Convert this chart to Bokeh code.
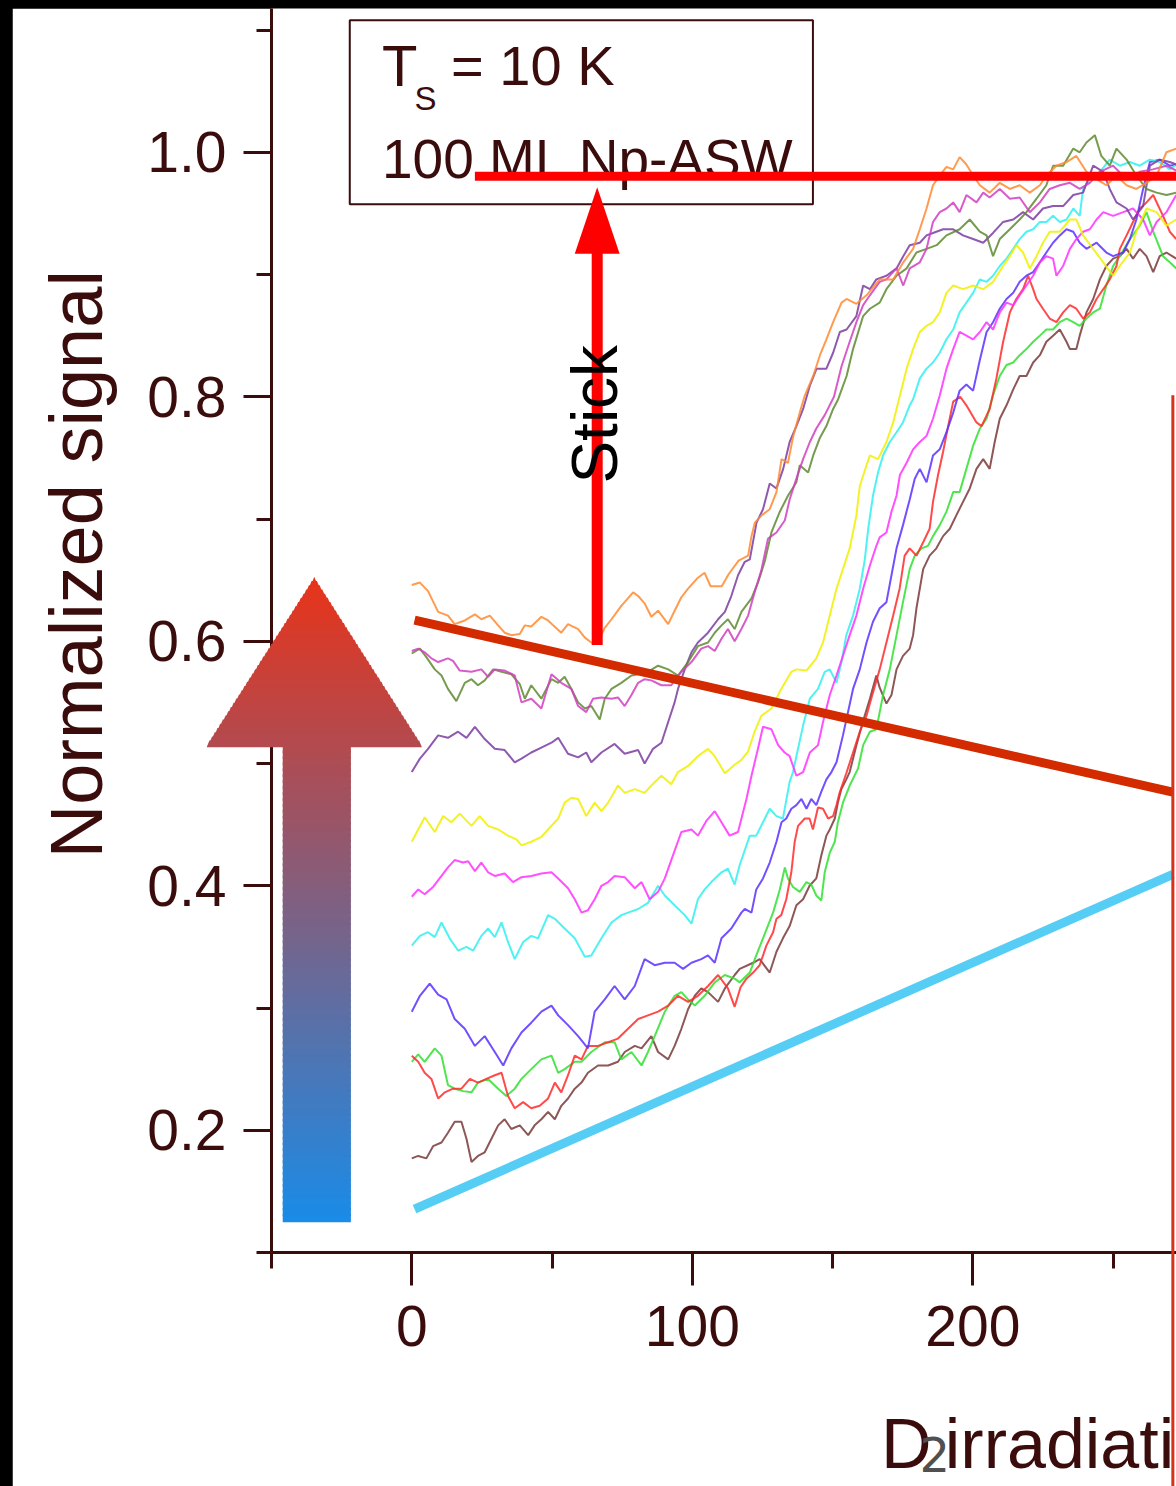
import math
from bokeh.plotting import figure
from bokeh.models import Range1d, FixedTicker, PrintfTickFormatter
from bokeh.layouts import column
from bokeh.embed import file_html
from bokeh.resources import INLINE
from bokeh.core.properties import value

# ---------------- data ----------------
X_TICKS = [0, 100, 200]
X_MINOR = [-50, 50, 150, 250]
Y_TICKS = [0.2, 0.4, 0.6, 0.8, 1.0]
Y_MINOR = [0.1, 0.3, 0.5, 0.7, 0.9, 1.1]

ORANGE = [(0,0.646),(2.9,0.648),(5.8,0.641),(9.4,0.624),(12.9,0.621),(15.3,0.614),(18.9,0.617),(22.5,0.622),(24.8,0.618),(27.8,0.621),(30.8,0.613),(33.1,0.607),(35.5,0.605),(38.5,0.606),(40.3,0.613),(42.6,0.612),(46.2,0.620),(48.6,0.617),(50.4,0.613),(53.3,0.607),(55.7,0.614),(59.3,0.610),(61.7,0.603),(64.0,0.599),(66.0,0.598),(68.8,0.611),(71.2,0.618),(74.7,0.629),(78.9,0.640),(80.7,0.637),(83.0,0.631),(85.4,0.620),(87.8,0.625),(91.4,0.614),(93.7,0.625),(96.1,0.636),(98.5,0.643),(102.0,0.652),(104.4,0.656),(106.5,0.645),(110.5,0.645),(113.0,0.655),(116.5,0.666),(119.9,0.670),(121.1,0.686),(122.3,0.697),(124.7,0.703),(127.6,0.708),(130.0,0.722),(131.8,0.749),(134.1,0.746),(136.0,0.768),(138.3,0.787),(140.1,0.801),(143.1,0.817),(145.5,0.834),(147.8,0.847),(150.2,0.861),(153.2,0.877),(155.0,0.880),(158.5,0.876),(162.1,0.883),(166.8,0.896),(171.6,0.896),(175.2,0.910),(178.7,0.921),(181.1,0.937),(183.5,0.954),(185.8,0.973),(188.2,0.981),(190.6,0.988),(193.0,0.986),(195.3,0.996),(197.7,0.990),(200.1,0.981),(202.5,0.973),(206.0,0.967),(209.6,0.975),(213.2,0.970),(216.7,0.973),(220.3,0.967),(223.9,0.973),(226.2,0.981),(229.8,0.989),(233.4,0.992),(236.9,0.997),(240.5,0.984),(244.1,0.978),(247.6,0.973),(251.2,0.981),(254.8,0.973),(258.3,0.970),(261.9,0.975),(265.5,0.981),(269.0,1.000),(272.5,1.003)]

PINK = [(0,0.592),(2.3,0.594),(4.6,0.591),(7.0,0.586),(9.4,0.583),(12.9,0.586),(14.7,0.584),(17.1,0.576),(21.3,0.575),(24.8,0.577),(27.2,0.571),(29.6,0.577),(33.1,0.576),(36.7,0.572),(39.1,0.550),(42.6,0.553),(46.2,0.545),(49.8,0.573),(53.3,0.566),(56.9,0.561),(59.3,0.547),(62.2,0.542),(64.6,0.553),(67.6,0.554),(71.2,0.553),(73.5,0.554),(75.9,0.547),(78.3,0.556),(80.7,0.566),(83.0,0.569),(85.4,0.568),(89.0,0.564),(92.5,0.564),(96.1,0.575),(99.7,0.583),(103.2,0.594),(105.6,0.596),(108.0,0.592),(110.4,0.602),(112.7,0.610),(115.1,0.600),(117.5,0.610),(119.9,0.621),(122.2,0.640),(124.6,0.658),(127.0,0.684),(130.0,0.689),(133.0,0.699),(134.7,0.716),(137.1,0.733),(139.5,0.749),(141.9,0.763),(144.2,0.774),(147.2,0.785),(150.5,0.800),(153.2,0.825),(156.1,0.845),(158.5,0.861),(160.9,0.875),(163.3,0.883),(166.8,0.894),(169.2,0.896),(172.8,0.905),(175.2,0.891),(177.5,0.905),(181.1,0.910),(183.5,0.921),(185.8,0.943),(188.2,0.951),(190.6,0.954),(193.0,0.959),(195.3,0.951),(197.7,0.965),(201.3,0.959),(203.7,0.967),(206.0,0.963),(209.6,0.970),(213.2,0.962),(216.7,0.963),(220.3,0.951),(223.9,0.959),(227.4,0.970),(231.0,0.973),(234.6,0.975),(238.1,0.970),(241.7,0.975),(245.3,0.984),(250.0,0.989),(254.8,0.978),(259.5,0.984),(264.2,0.986),(269.0,0.989),(272.5,0.985)]

OLIVE = [(0,0.590),(2.9,0.594),(5.2,0.587),(8.2,0.577),(10.6,0.572),(12.9,0.561),(15.9,0.551),(18.9,0.566),(21.3,0.569),(23.6,0.564),(26.0,0.568),(29.0,0.577),(32.0,0.575),(35.5,0.573),(38.5,0.565),(40.3,0.553),(42.6,0.564),(46.2,0.553),(49.8,0.569),(52.2,0.566),(54.5,0.571),(56.9,0.561),(59.3,0.550),(61.7,0.545),(64.0,0.547),(67.0,0.536),(68.8,0.553),(71.2,0.561),(74.7,0.566),(78.3,0.572),(80.7,0.573),(84.2,0.575),(87.8,0.580),(91.4,0.577),(94.9,0.572),(98.5,0.583),(102.0,0.596),(105.6,0.599),(108.0,0.607),(110.4,0.613),(112.7,0.618),(115.1,0.610),(117.5,0.624),(121.1,0.635),(123.4,0.648),(125.8,0.665),(128.2,0.689),(131.2,0.706),(134.1,0.719),(137.1,0.730),(138.3,0.744),(141.3,0.738),(143.1,0.752),(145.4,0.766),(147.8,0.776),(150.2,0.790),(152.0,0.798),(155.0,0.817),(157.3,0.839),(160.9,0.866),(163.3,0.872),(166.8,0.877),(169.2,0.888),(172.8,0.899),(176.4,0.905),(179.9,0.918),(183.5,0.921),(187.1,0.924),(190.6,0.932),(195.3,0.937),(198.9,0.945),(202.5,0.935),(204.9,0.932),(207.2,0.915),(209.6,0.929),(213.2,0.937),(216.7,0.945),(219.1,0.951),(222.7,0.962),(226.2,0.973),(228.6,0.989),(232.2,0.989),(235.8,1.003),(238.1,1.000),(240.5,1.008),(243.5,1.014),(245.8,0.997),(248.8,0.989),(251.2,1.003),(254.8,0.994),(258.3,0.981),(261.9,0.970),(265.5,0.967),(269.0,0.965),(272.5,0.967)]

PURPLE = [(0,0.493),(2.9,0.504),(5.8,0.512),(9.4,0.523),(12.9,0.521),(16.5,0.526),(19.5,0.521),(22.5,0.530),(26.0,0.520),(29.6,0.512),(33.1,0.511),(36.7,0.501),(39.1,0.504),(42.6,0.509),(46.2,0.513),(49.8,0.517),(52.2,0.521),(55.7,0.508),(59.3,0.505),(62.2,0.509),(64.0,0.501),(67.6,0.509),(72.3,0.516),(75.9,0.508),(80.7,0.511),(83.0,0.500),(86.0,0.512),(89.0,0.517),(91.4,0.534),(93.7,0.550),(94.9,0.561),(97.3,0.577),(99.7,0.591),(102.0,0.599),(105.6,0.607),(109.2,0.618),(111.6,0.624),(113.9,0.637),(116.3,0.654),(118.7,0.665),(120.5,0.667),(122.9,0.697),(125.2,0.708),(127.6,0.729),(130.0,0.725),(132.4,0.741),(134.7,0.763),(137.1,0.776),(139.5,0.790),(141.9,0.809),(144.3,0.823),(147.8,0.823),(150.2,0.836),(152.6,0.853),(155.0,0.855),(158.5,0.866),(160.9,0.891),(163.3,0.888),(165.6,0.896),(169.2,0.899),(172.8,0.905),(175.2,0.915),(177.5,0.924),(181.1,0.926),(183.5,0.932),(185.8,0.934),(189.4,0.937),(193.0,0.937),(196.5,0.932),(200.1,0.929),(203.7,0.926),(207.2,0.934),(210.8,0.943),(214.4,0.945),(217.9,0.951),(221.5,0.945),(225.0,0.954),(228.6,0.956),(232.2,0.956),(235.8,0.965),(239.3,0.967),(242.9,0.989),(246.5,0.984),(248.8,0.970),(251.2,0.959),(254.8,0.954),(257.1,0.945),(260.7,0.956),(263.1,0.989),(266.6,0.994),(270.2,0.992),(272.5,0.990)]

YELLOW = [(0,0.436),(2.3,0.446),(4.6,0.456),(8.2,0.444),(11.2,0.457),(14.1,0.452),(17.1,0.459),(21.3,0.449),(24.2,0.457),(27.2,0.449),(30.8,0.446),(34.3,0.441),(37.3,0.438),(39.1,0.433),(42.6,0.436),(46.2,0.440),(48.6,0.446),(52.2,0.455),(54.5,0.468),(56.9,0.472),(59.3,0.471),(62.2,0.457),(65.2,0.468),(67.6,0.461),(70.0,0.468),(73.5,0.482),(75.9,0.476),(79.5,0.479),(83.0,0.476),(85.4,0.482),(89.0,0.490),(92.5,0.483),(94.9,0.493),(98.5,0.498),(102.0,0.506),(105.6,0.512),(108.0,0.506),(111.6,0.492),(115.1,0.499),(117.5,0.503),(119.9,0.510),(122.2,0.526),(124.6,0.539),(128.2,0.545),(131.7,0.561),(135.3,0.575),(137.1,0.577),(140.7,0.576),(144.2,0.586),(146.6,0.599),(149.0,0.621),(151.4,0.643),(153.7,0.659),(156.1,0.676),(158.5,0.703),(159.7,0.727),(162.1,0.744),(163.3,0.752),(166.2,0.749),(169.2,0.763),(171.6,0.779),(174.0,0.801),(176.4,0.823),(178.7,0.839),(181.1,0.853),(183.5,0.858),(185.8,0.861),(188.2,0.869),(190.6,0.885),(193.0,0.891),(196.5,0.888),(200.1,0.891),(203.7,0.888),(207.2,0.894),(210.8,0.907),(213.2,0.915),(215.5,0.924),(217.9,0.918),(220.3,0.905),(222.7,0.915),(225.0,0.926),(227.4,0.935),(231.0,0.935),(234.6,0.945),(236.9,0.945),(239.3,0.932),(242.9,0.921),(246.5,0.910),(250.0,0.899),(252.4,0.907),(256.0,0.918),(258.3,0.935),(261.9,0.954),(265.5,0.951),(269.0,0.940),(272.5,0.945)]

MAGENTA = [(0,0.391),(2.3,0.397),(4.6,0.393),(7.6,0.399),(10.6,0.408),(12.9,0.415),(15.3,0.421),(18.3,0.419),(20.1,0.420),(22.5,0.412),(24.8,0.419),(27.2,0.411),(29.6,0.408),(33.1,0.410),(36.1,0.403),(39.1,0.407),(42.6,0.408),(46.2,0.410),(49.8,0.411),(52.2,0.406),(55.7,0.398),(58.1,0.389),(60.5,0.378),(62.8,0.380),(65.2,0.389),(67.6,0.400),(70.0,0.403),(72.3,0.408),(75.9,0.407),(79.5,0.398),(81.9,0.403),(84.8,0.389),(87.8,0.395),(90.2,0.406),(92.5,0.421),(96.1,0.444),(99.7,0.446),(102.0,0.441),(105.0,0.453),(108.0,0.461),(110.4,0.452),(113.3,0.441),(116.3,0.444),(119.3,0.471),(121.1,0.490),(123.4,0.512),(125.2,0.530),(128.2,0.528),(130.6,0.515),(132.9,0.509),(134.7,0.506),(137.1,0.490),(139.5,0.493),(141.9,0.509),(144.8,0.515),(146.6,0.534),(149.0,0.556),(151.4,0.572),(153.7,0.588),(156.1,0.605),(158.5,0.621),(160.9,0.643),(163.3,0.662),(165.6,0.678),(166.8,0.685),(169.2,0.689),(171.0,0.706),(172.8,0.719),(174.0,0.736),(176.4,0.746),(178.7,0.757),(181.1,0.763),(183.5,0.768),(185.8,0.782),(188.2,0.801),(190.6,0.823),(193.0,0.839),(195.3,0.853),(197.7,0.850),(200.1,0.847),(202.5,0.853),(204.9,0.861),(207.2,0.855),(209.6,0.869),(212.0,0.877),(214.4,0.875),(216.7,0.883),(219.1,0.891),(221.5,0.899),(223.9,0.910),(226.2,0.915),(228.6,0.913),(229.8,0.899),(232.2,0.907),(234.6,0.921),(236.9,0.929),(239.3,0.935),(241.7,0.937),(244.1,0.945),(246.5,0.951),(250.0,0.948),(253.6,0.951),(257.1,0.954),(260.7,0.945),(263.1,0.932),(265.5,0.943),(269.0,0.951),(272.5,0.965)]

CYAN = [(0,0.351),(2.9,0.359),(5.8,0.362),(8.2,0.358),(10.6,0.370),(13.5,0.357),(16.5,0.347),(19.5,0.350),(21.9,0.347),(24.8,0.359),(27.2,0.365),(29.6,0.358),(32.0,0.370),(34.3,0.354),(36.7,0.340),(39.7,0.354),(42.6,0.359),(45.0,0.357),(48.6,0.376),(51.0,0.373),(54.5,0.365),(58.1,0.357),(61.7,0.342),(64.0,0.343),(67.6,0.357),(71.2,0.370),(74.7,0.376),(77.1,0.378),(80.7,0.381),(84.2,0.386),(87.8,0.400),(90.2,0.392),(93.7,0.384),(97.3,0.376),(99.7,0.369),(102.0,0.389),(104.4,0.397),(106.8,0.403),(110.4,0.411),(112.7,0.414),(115.1,0.401),(116.9,0.417),(120.5,0.441),(122.8,0.441),(125.2,0.452),(127.6,0.463),(130.0,0.457),(132.3,0.455),(134.7,0.485),(135.9,0.493),(137.1,0.506),(139.5,0.531),(141.9,0.553),(144.8,0.561),(147.2,0.575),(149.0,0.577),(151.4,0.566),(153.2,0.583),(154.9,0.605),(157.3,0.621),(159.7,0.643),(161.5,0.667),(162.7,0.692),(164.4,0.719),(166.2,0.738),(168.0,0.752),(170.4,0.763),(172.8,0.771),(175.1,0.779),(177.5,0.793),(178.7,0.798),(181.1,0.815),(183.5,0.823),(185.8,0.828),(188.2,0.836),(190.6,0.847),(193.0,0.855),(195.3,0.869),(197.7,0.877),(200.1,0.885),(202.5,0.896),(204.9,0.894),(207.2,0.899),(209.6,0.907),(212.0,0.913),(214.4,0.921),(216.7,0.929),(219.1,0.935),(221.5,0.937),(223.9,0.943),(226.2,0.943),(228.6,0.948),(231.0,0.943),(233.4,0.945),(235.8,0.954),(238.1,0.948),(239.3,0.970),(241.7,0.978),(245.3,0.984),(248.8,0.994),(252.4,0.989),(256.0,0.992),(259.5,0.989),(263.1,0.994),(266.6,0.992),(270.2,0.986),(272.5,0.990)]

BLUE = [(0,0.297),(2.9,0.310),(6.4,0.320),(9.4,0.311),(12.4,0.307),(15.3,0.291),(18.9,0.283),(22.5,0.269),(26.0,0.277),(29.6,0.264),(32.6,0.253),(35.5,0.267),(39.1,0.280),(42.6,0.288),(46.2,0.297),(49.8,0.302),(52.2,0.294),(55.7,0.286),(59.3,0.277),(62.8,0.267),(65.2,0.297),(68.8,0.307),(72.3,0.318),(75.9,0.307),(79.5,0.318),(83.0,0.340),(86.6,0.335),(90.2,0.337),(93.7,0.337),(96.7,0.332),(99.7,0.337),(103.2,0.340),(105.6,0.343),(108.0,0.337),(110.4,0.357),(113.9,0.365),(117.5,0.378),(118.7,0.381),(121.1,0.378),(122.8,0.397),(125.2,0.406),(127.6,0.419),(130.0,0.436),(131.8,0.452),(133.5,0.455),(135.3,0.463),(137.1,0.466),(138.9,0.471),(140.7,0.463),(142.4,0.471),(144.2,0.466),(146.0,0.477),(147.8,0.487),(149.6,0.493),(151.4,0.501),(153.7,0.523),(157.3,0.561),(159.7,0.577),(162.1,0.599),(164.4,0.616),(166.8,0.627),(169.2,0.632),(171.0,0.654),(172.8,0.676),(175.1,0.695),(177.5,0.716),(179.3,0.733),(181.1,0.741),(183.5,0.730),(185.8,0.752),(188.2,0.757),(190.6,0.771),(193.0,0.787),(195.3,0.805),(197.7,0.810),(200.1,0.805),(202.5,0.830),(204.9,0.853),(207.2,0.861),(209.6,0.872),(212.0,0.880),(214.4,0.885),(216.7,0.894),(219.1,0.899),(221.5,0.902),(223.9,0.910),(226.2,0.918),(228.6,0.926),(231.0,0.932),(233.4,0.937),(235.8,0.935),(238.1,0.926),(240.5,0.921),(244.1,0.926),(247.6,0.918),(250.0,0.915),(253.6,0.918),(256.0,0.929),(258.3,0.945),(260.7,0.970),(263.1,0.992),(266.6,0.994),(270.2,0.989),(272.5,0.990)]

RED = [(0,0.261),(2.3,0.256),(4.6,0.247),(7.0,0.242),(9.4,0.226),(11.8,0.231),(14.7,0.234),(17.7,0.234),(20.7,0.242),(23.6,0.239),(26.6,0.242),(29.6,0.245),(32.0,0.247),(34.3,0.228),(36.7,0.218),(39.7,0.223),(42.6,0.218),(45.6,0.220),(48.6,0.226),(51.0,0.239),(53.3,0.231),(55.7,0.245),(58.1,0.261),(60.5,0.258),(62.8,0.269),(66.4,0.269),(70.0,0.272),(73.5,0.275),(77.1,0.283),(80.7,0.291),(84.2,0.294),(87.8,0.297),(91.4,0.302),(94.9,0.310),(98.5,0.305),(102.0,0.310),(105.6,0.318),(109.2,0.327),(112.7,0.316),(115.1,0.301),(117.2,0.317),(119.3,0.324),(121.7,0.329),(124.0,0.335),(126.4,0.351),(128.8,0.362),(130.0,0.373),(131.7,0.376),(133.5,0.389),(135.3,0.411),(136.5,0.436),(137.7,0.449),(140.1,0.455),(141.8,0.455),(143.0,0.446),(144.8,0.464),(146.6,0.463),(148.4,0.455),(150.2,0.457),(151.4,0.466),(152.5,0.476),(154.9,0.492),(157.3,0.509),(159.7,0.526),(162.1,0.539),(164.4,0.558),(166.8,0.577),(169.2,0.599),(171.6,0.621),(173.9,0.643),(175.7,0.670),(177.5,0.676),(179.9,0.670),(182.3,0.681),(184.6,0.692),(185.8,0.714),(187.6,0.736),(189.4,0.755),(191.2,0.776),(193.0,0.796),(195.5,0.800),(197.7,0.793),(201.3,0.779),(203.1,0.776),(206.0,0.790),(208.4,0.815),(210.8,0.845),(213.2,0.869),(215.5,0.880),(217.9,0.888),(219.7,0.899),(221.5,0.888),(222.7,0.880),(225.0,0.872),(227.4,0.864),(229.8,0.861),(232.2,0.869),(234.6,0.875),(236.9,0.872),(239.3,0.864),(241.7,0.869),(244.1,0.880),(246.5,0.888),(248.8,0.896),(251.2,0.907),(252.4,0.921),(254.8,0.932),(257.1,0.943),(259.5,0.954),(261.9,0.959),(264.3,0.965),(267.8,0.948),(270.2,0.935),(272.5,0.929)]

GREEN = [(0,0.256),(2.3,0.262),(4.6,0.256),(8.2,0.267),(10.6,0.261),(12.9,0.237),(15.3,0.234),(18.3,0.232),(21.3,0.231),(23.6,0.239),(27.2,0.242),(30.8,0.234),(33.7,0.228),(36.7,0.234),(39.1,0.242),(42.6,0.250),(46.2,0.258),(49.8,0.261),(52.2,0.247),(54.5,0.250),(58.1,0.256),(60.5,0.256),(64.0,0.264),(68.8,0.272),(72.3,0.272),(74.7,0.258),(78.3,0.264),(81.9,0.253),(84.2,0.264),(86.6,0.277),(90.2,0.297),(93.7,0.310),(96.1,0.313),(98.5,0.307),(100.9,0.302),(104.4,0.310),(108.0,0.321),(111.6,0.327),(115.1,0.324),(116.9,0.321),(120.5,0.329),(122.8,0.343),(125.2,0.357),(128.8,0.378),(131.2,0.397),(133.0,0.415),(134.1,0.406),(135.9,0.399),(138.3,0.395),(140.7,0.403),(142.4,0.401),(144.2,0.392),(146.0,0.388),(147.2,0.411),(149.0,0.427),(150.8,0.436),(151.9,0.452),(153.7,0.468),(156.1,0.482),(159.1,0.496),(160.9,0.515),(163.3,0.526),(165.6,0.528),(168.0,0.556),(170.4,0.577),(172.8,0.605),(175.1,0.632),(177.5,0.659),(179.3,0.670),(181.7,0.676),(184.0,0.678),(185.8,0.686),(188.2,0.695),(190.6,0.706),(193.0,0.722),(195.3,0.722),(197.7,0.741),(200.1,0.760),(202.5,0.774),(204.9,0.782),(207.2,0.801),(209.6,0.817),(212.0,0.826),(214.4,0.828),(216.7,0.834),(219.1,0.839),(221.5,0.845),(223.9,0.850),(226.2,0.855),(228.6,0.855),(231.0,0.861),(233.4,0.864),(235.8,0.861),(238.1,0.858),(240.5,0.864),(242.9,0.869),(245.3,0.872),(247.6,0.891),(250.0,0.907),(252.4,0.915),(256.0,0.929),(259.5,0.940),(261.9,0.951),(264.3,0.935),(267.8,0.915),(270.2,0.910),(272.5,0.905)]

BROWN = [(0,0.177),(2.3,0.179),(5.2,0.177),(7.6,0.187),(10.6,0.190),(12.9,0.198),(15.3,0.207),(17.7,0.207),(19.5,0.193),(21.3,0.174),(23.6,0.179),(26.0,0.182),(28.4,0.193),(30.8,0.204),(33.1,0.209),(35.5,0.201),(38.5,0.204),(41.5,0.196),(43.8,0.204),(46.2,0.209),(48.6,0.215),(51.0,0.209),(53.3,0.220),(55.7,0.226),(58.1,0.234),(60.5,0.239),(62.8,0.247),(66.4,0.253),(70.0,0.253),(73.5,0.256),(75.9,0.264),(79.5,0.269),(81.9,0.267),(85.4,0.277),(87.8,0.264),(91.4,0.258),(93.7,0.269),(96.1,0.283),(98.5,0.299),(100.9,0.310),(103.2,0.316),(105.6,0.313),(109.2,0.305),(111.6,0.316),(115.1,0.327),(116.9,0.332),(121.7,0.337),(124.0,0.340),(127.6,0.329),(130.0,0.346),(132.3,0.357),(134.7,0.367),(137.1,0.384),(139.5,0.389),(141.8,0.400),(144.2,0.406),(146.0,0.425),(147.8,0.441),(149.0,0.446),(150.8,0.455),(151.9,0.468),(153.1,0.479),(154.9,0.487),(156.1,0.493),(158.5,0.515),(160.9,0.535),(163.3,0.553),(165.6,0.572),(166.8,0.562),(169.2,0.549),(171.0,0.556),(172.8,0.577),(175.1,0.588),(177.5,0.594),(178.7,0.605),(179.9,0.627),(181.1,0.643),(182.3,0.659),(184.6,0.670),(187.0,0.676),(189.4,0.686),(191.8,0.692),(194.1,0.703),(196.5,0.714),(198.9,0.725),(201.3,0.741),(203.7,0.749),(206.0,0.741),(207.8,0.763),(209.6,0.782),(212.0,0.793),(214.4,0.806),(216.7,0.817),(219.1,0.817),(221.5,0.828),(223.9,0.834),(226.2,0.845),(228.6,0.850),(231.0,0.855),(233.4,0.845),(234.6,0.839),(236.9,0.839),(238.1,0.850),(240.5,0.869),(242.9,0.880),(245.3,0.896),(247.6,0.907),(250.0,0.913),(252.4,0.915),(254.8,0.921),(257.1,0.913),(259.5,0.921),(261.9,0.915),(264.3,0.902),(266.6,0.915),(269.0,0.918),(272.5,0.913)]

SERIES = [
    (BROWN, "#7a3a3a"), (GREEN, "#30e030"), (RED, "#ff2a2a"), (BLUE, "#5a30ff"),
    (CYAN, "#30f0f0"), (MAGENTA, "#ff30ff"), (YELLOW, "#f0f000"), (PURPLE, "#7a3ca0"),
    (OLIVE, "#5e8a30"), (PINK, "#d040c0"), (ORANGE, "#ff8a30"),
]

# annotation geometry (data coordinates)
STICK_X = 66.1
STICK_Y0, STICK_Y1, STICK_TIP = 0.597, 0.917, 0.9714
TOP_LINE_Y = 0.9804
DARK_LINE = ([1.0, 271.3], [0.6172, 0.4765])
CYAN_LINE = ([1.0, 271.3], [0.1354, 0.4094])

DARK = "#3a0c0c"
FONT = "Liberation Sans"

p = figure(width=1164, height=1478,
           x_range=Range1d(-50, 272.6), y_range=Range1d(0.1, 1.1176),
           output_backend="svg", toolbar_location=None,
           min_border_left=259, min_border_right=0, min_border_top=0, min_border_bottom=234)
p.margin = (8, 0, 0, 12)
p.grid.visible = False
p.outline_line_color = None
p.background_fill_color = "white"
p.border_fill_color = "white"

xa = p.xaxis[0]
xa.ticker = FixedTicker(ticks=X_TICKS, minor_ticks=X_MINOR)
ya = p.yaxis[0]
ya.ticker = FixedTicker(ticks=Y_TICKS, minor_ticks=Y_MINOR)
ya.formatter = PrintfTickFormatter(format="%.1f")
for ax in (xa, ya):
    ax.axis_line_width = 3
    ax.axis_line_color = DARK
    ax.major_tick_line_color = DARK
    ax.minor_tick_line_color = DARK
    ax.major_tick_line_width = 3
    ax.minor_tick_line_width = 3
    ax.major_tick_in = 0
    ax.minor_tick_in = 0
    ax.major_label_text_font = FONT
    ax.major_label_text_font_size = "57px"
    ax.major_label_text_color = DARK
xa.major_tick_out = 33
xa.minor_tick_out = 16
xa.major_label_standoff = 20
ya.major_tick_out = 28
ya.minor_tick_out = 15
ya.major_label_standoff = 17

def label(x, y, s, size, color=DARK, font=FONT, align="left", angle=0.0, level="glyph"):
    p.text(x=[x], y=[y], text=[s], angle=angle, text_font=value(font), text_font_size=size,
           text_color=color, text_baseline="middle", text_align=align, level=level)

# data curves
for pts, col in SERIES:
    xs = [a for a, b in pts]
    ys = [b for a, b in pts]
    p.line(xs, ys, line_color=col, line_width=2, line_alpha=0.85)

# info box
p.quad(left=[-22.1], right=[143.0], bottom=[0.9575], top=[1.108],
       fill_color="white", line_color=DARK, line_width=2)
label(-10.6, 1.0708, "T", "58px")
label(1.0, 1.0438, "S", "33px")
label(14.0, 1.0708, "= 10 K", "56px")
label(-10.6, 0.9947, "100 ML Np-ASW", "55px")

# red horizontal line
p.segment(x0=[22.5], y0=[TOP_LINE_Y], x1=[280], y1=[TOP_LINE_Y], line_color="#ff0000", line_width=9)

# stick arrow
p.quad(left=[STICK_X - 1.96], right=[STICK_X + 1.96], bottom=[STICK_Y0], top=[STICK_Y1 + 0.002],
       fill_color="#ff0000", line_color=None)
p.patch([STICK_X - 8.0, STICK_X + 8.0, STICK_X], [STICK_Y1, STICK_Y1, STICK_TIP],
        fill_color="#ff0000", line_color=None)
label(65.2, 0.7857, "Stick", "64px", color="black", align="center", angle=math.pi / 2)

# trend lines
p.line(DARK_LINE[0], DARK_LINE[1], line_color="#d42a00", line_width=9)
p.line(CYAN_LINE[0], CYAN_LINE[1], line_color="#55cdf5", line_width=9)

# right-hand red frame line
p.segment(x0=[271.3], y0=[0.8012], x1=[271.3], y1=[-0.2], line_color="#d8321a",
          line_width=3, level="overlay")

# gradient arrow (decoration)
TOP_C = (232, 52, 26)
BOT_C = (26, 140, 232)
ay0, ay_base, ay_tip = 0.1247, 0.5133, 0.6507
def grad(yv):
    t = (yv - ay0) / (ay_tip - ay0)
    t = min(max(t, 0.0), 1.0)
    r = int(BOT_C[0] + (TOP_C[0] - BOT_C[0]) * t)
    g = int(BOT_C[1] + (TOP_C[1] - BOT_C[1]) * t)
    b = int(BOT_C[2] + (TOP_C[2] - BOT_C[2]) * t)
    return "#%02x%02x%02x" % (r, g, b)

N = 80
lefts, rights, bots, tops, cols = [], [], [], [], []
for i in range(N):
    y0 = ay0 + (ay_base - ay0) * i / N
    y1 = ay0 + (ay_base - ay0) * (i + 1) / N
    lefts.append(-46.0); rights.append(-21.7)
    bots.append(y0); tops.append(y1 + 0.002)
    cols.append(grad((y0 + y1) / 2))
p.quad(left=lefts, right=rights, bottom=bots, top=tops, fill_color=cols, line_color=None, level="overlay")

HC, HW = -34.75, 38.35
M = 40
hxs, hys, hcols = [], [], []
for i in range(M):
    y0 = ay_base + (ay_tip - ay_base) * i / M
    y1 = ay_base + (ay_tip - ay_base) * (i + 1) / M
    w0 = HW * (ay_tip - y0) / (ay_tip - ay_base)
    w1 = HW * (ay_tip - y1) / (ay_tip - ay_base)
    hxs.append([HC - w0, HC + w0, HC + w1, HC - w1])
    hys.append([y0, y0, y1 + 0.002, y1 + 0.002])
    hcols.append(grad((y0 + y1) / 2))
p.patches(hxs, hys, fill_color=hcols, line_color=None, level="overlay")

# y-axis title (placed as in the reference, not centred on this frame)
label(-119.4, 0.663, "Normalized signal", "74px", align="center", angle=math.pi / 2, level="overlay")

# x-axis title: only the part visible in the reference crop
label(167.3, -0.0569, "D", "70px", level="overlay")
label(190.0, -0.0569, "irradiati", "70px", level="overlay")
label(181.0, -0.0655, "2", "48px", color="#505050", font="DejaVu Sans", level="overlay")

layout = column(p, styles={"background-color": "black"})
open("out.html", "w").write(file_html(layout, INLINE))
